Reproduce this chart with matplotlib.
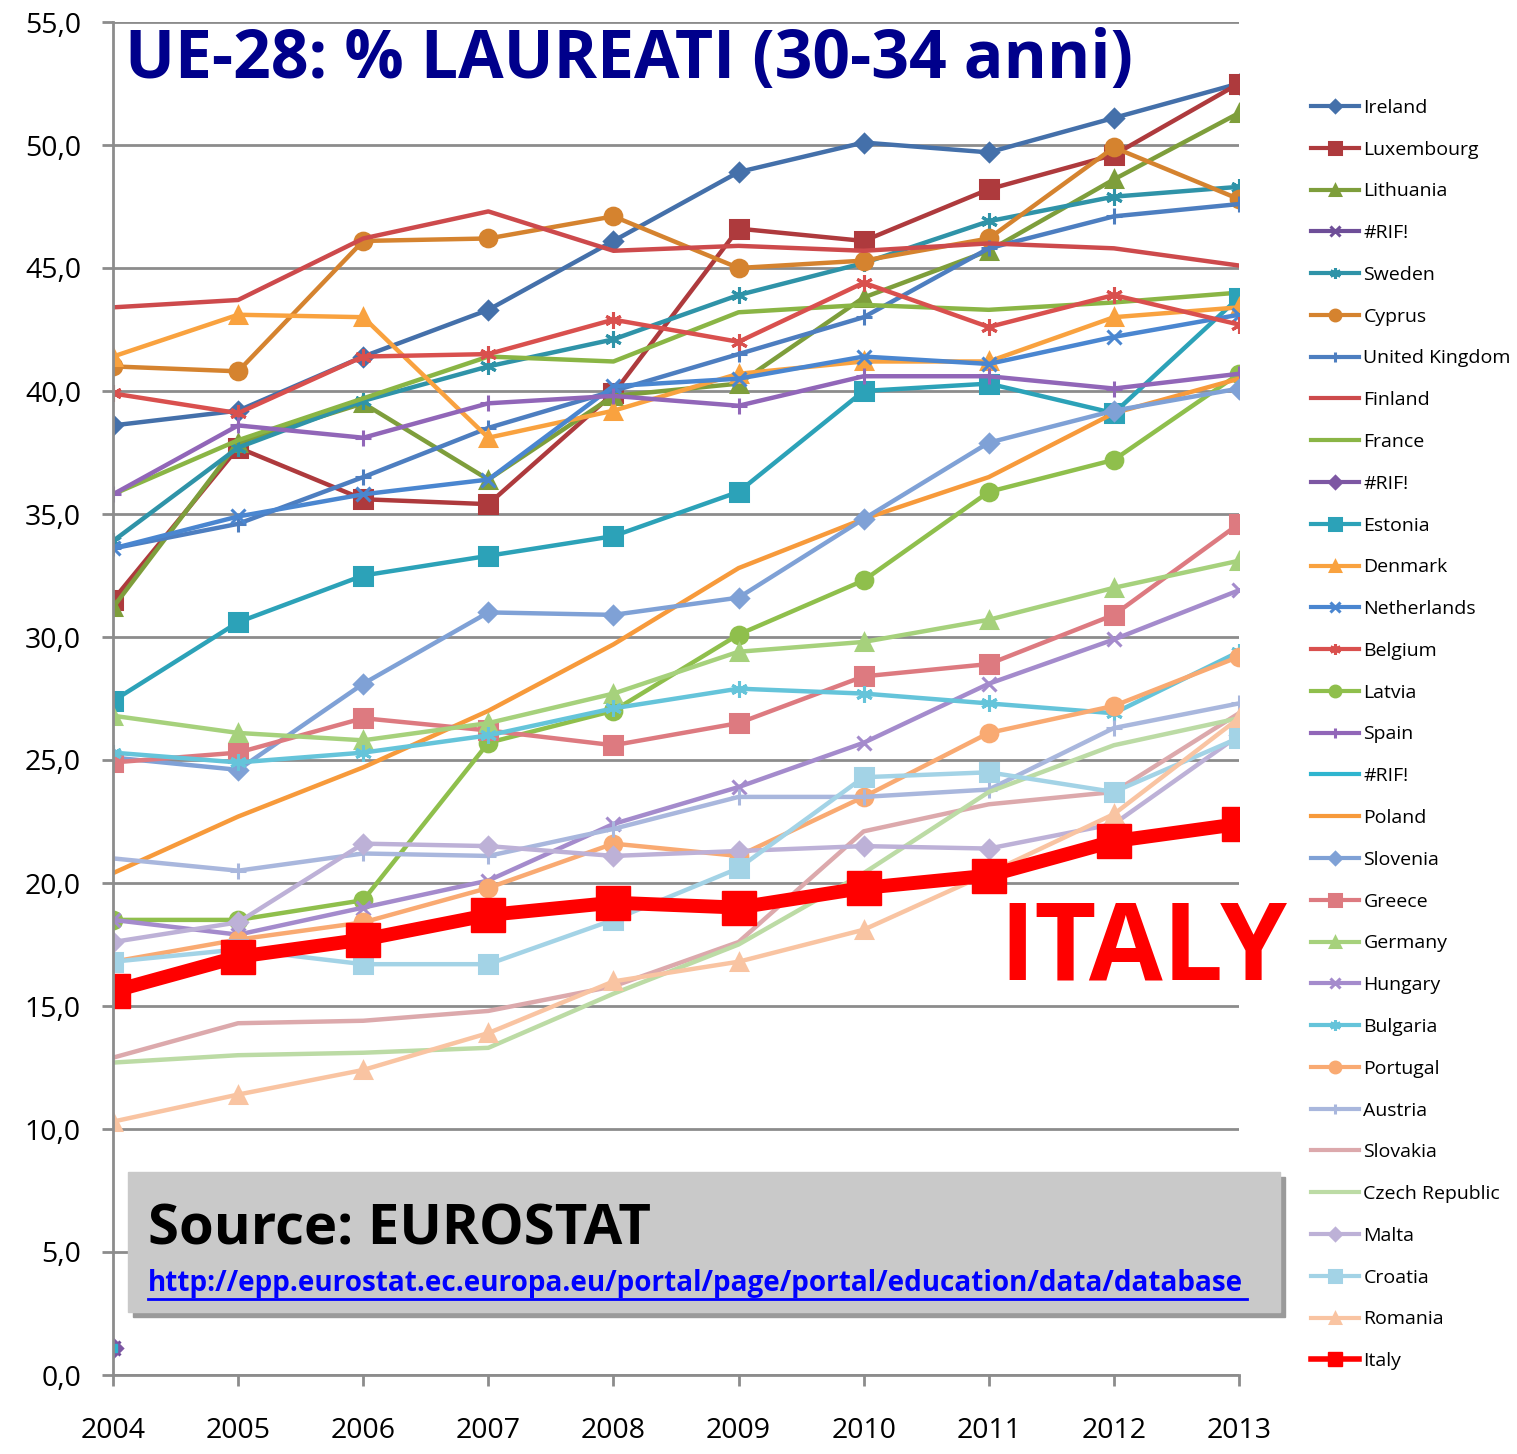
import numpy as np
import matplotlib
matplotlib.use("Agg")
import matplotlib.pyplot as plt
from matplotlib.patches import Rectangle
from matplotlib.ticker import FuncFormatter

nan = np.nan
years = [2004, 2005, 2006, 2007, 2008, 2009, 2010, 2011, 2012, 2013]

ireland = [38.6, 39.2, 41.4, 43.3, 46.1, 48.9, 50.1, 49.7, 51.1, 52.5]
luxembourg = [31.5, 37.7, 35.6, 35.4, 39.9, 46.6, 46.1, 48.2, 49.6, 52.5]
lithuania = [31.2, 37.9, 39.5, 36.4, 39.8, 40.3, 43.8, 45.7, 48.6, 51.3]
rif_a = [1.1, nan, nan, nan, nan, nan, nan, nan, nan, nan]
sweden = [33.9, 37.7, 39.6, 41.0, 42.1, 43.9, 45.2, 46.9, 47.9, 48.3]
cyprus = [41.0, 40.8, 46.1, 46.2, 47.1, 45.0, 45.3, 46.2, 49.9, 47.8]
uk = [33.6, 34.6, 36.5, 38.5, 40.0, 41.5, 43.0, 45.8, 47.1, 47.6]
finland = [43.4, 43.7, 46.2, 47.3, 45.7, 45.9, 45.7, 46.0, 45.8, 45.1]
france = [35.8, 38.0, 39.7, 41.4, 41.2, 43.2, 43.5, 43.3, 43.6, 44.0]
rif_b = [1.1, nan, nan, nan, nan, nan, nan, nan, nan, nan]
estonia = [27.4, 30.6, 32.5, 33.3, 34.1, 35.9, 40.0, 40.3, 39.1, 43.8]
denmark = [41.4, 43.1, 43.0, 38.1, 39.2, 40.7, 41.2, 41.2, 43.0, 43.4]
netherlands = [33.6, 34.9, 35.8, 36.4, 40.2, 40.5, 41.4, 41.1, 42.2, 43.1]
belgium = [39.9, 39.1, 41.4, 41.5, 42.9, 42.0, 44.4, 42.6, 43.9, 42.7]
latvia = [18.5, 18.5, 19.3, 25.7, 27.0, 30.1, 32.3, 35.9, 37.2, 40.7]
spain = [35.8, 38.6, 38.1, 39.5, 39.8, 39.4, 40.6, 40.6, 40.1, 40.7]
rif_c = [1.1, nan, nan, nan, nan, nan, nan, nan, nan, nan]
poland = [20.4, 22.7, 24.7, 27.0, 29.7, 32.8, 34.8, 36.5, 39.1, 40.5]
slovenia = [25.1, 24.6, 28.1, 31.0, 30.9, 31.6, 34.8, 37.9, 39.2, 40.1]
greece = [24.9, 25.3, 26.7, 26.2, 25.6, 26.5, 28.4, 28.9, 30.9, 34.6]
germany = [26.8, 26.1, 25.8, 26.5, 27.7, 29.4, 29.8, 30.7, 32.0, 33.1]
hungary = [18.5, 17.9, 19.0, 20.1, 22.4, 23.9, 25.7, 28.1, 29.9, 31.9]
bulgaria = [25.3, 24.9, 25.3, 26.0, 27.1, 27.9, 27.7, 27.3, 26.9, 29.4]
portugal = [16.8, 17.7, 18.4, 19.8, 21.6, 21.1, 23.5, 26.1, 27.2, 29.2]
austria = [21.0, 20.5, 21.2, 21.1, 22.2, 23.5, 23.5, 23.8, 26.3, 27.3]
slovakia = [12.9, 14.3, 14.4, 14.8, 15.8, 17.6, 22.1, 23.2, 23.7, 26.9]
czech = [12.7, 13.0, 13.1, 13.3, 15.5, 17.5, 20.4, 23.7, 25.6, 26.7]
malta = [17.6, 18.4, 21.6, 21.5, 21.1, 21.3, 21.5, 21.4, 22.4, 26.0]
croatia = [16.8, 17.3, 16.7, 16.7, 18.5, 20.6, 24.3, 24.5, 23.7, 25.9]
romania = [10.3, 11.4, 12.4, 13.9, 16.0, 16.8, 18.1, 20.4, 22.8, 26.7]
italy = [15.6, 17.0, 17.7, 18.7, 19.2, 19.0, 19.8, 20.3, 21.7, 22.4]

asterisk = (6, 2, 0)
series = [
    ("Ireland", ireland, "#4470AA", "D", 9),
    ("Luxembourg", luxembourg, "#AE3A3D", "s", 13),
    ("Lithuania", lithuania, "#7E9E3B", "^", 12),
    ("#RIF!", rif_a, "#6E4E98", "x", 10),
    ("Sweden", sweden, "#2F93A8", asterisk, 12),
    ("Cyprus", cyprus, "#D5832F", "o", 12),
    ("United Kingdom", uk, "#4D7EC0", "+", 12),
    ("Finland", finland, "#CD4A4C", None, 0),
    ("France", france, "#8AB545", None, 0),
    ("#RIF!", rif_b, "#7D57A3", "D", 9),
    ("Estonia", estonia, "#2CA2B8", "s", 13),
    ("Denmark", denmark, "#F9A23F", "^", 12),
    ("Netherlands", netherlands, "#4A86D0", "x", 10),
    ("Belgium", belgium, "#D9504E", asterisk, 12),
    ("Latvia", latvia, "#8FBF4C", "o", 12),
    ("Spain", spain, "#9166B8", "+", 12),
    ("#RIF!", rif_c, "#2FB5CF", None, 0),
    ("Poland", poland, "#F79A3B", None, 0),
    ("Slovenia", slovenia, "#7FA1D6", "D", 9),
    ("Greece", greece, "#DD7A80", "s", 13),
    ("Germany", germany, "#A6D17C", "^", 12),
    ("Hungary", hungary, "#A48BCC", "x", 10),
    ("Bulgaria", bulgaria, "#65C4DA", asterisk, 12),
    ("Portugal", portugal, "#F9AA72", "o", 12),
    ("Austria", austria, "#A9B7DD", "+", 12),
    ("Slovakia", slovakia, "#DCA9AC", None, 0),
    ("Czech Republic", czech, "#BCDBA5", None, 0),
    ("Malta", malta, "#BDB1D7", "D", 9),
    ("Croatia", croatia, "#A3D3E6", "s", 13),
    ("Romania", romania, "#F9C4A2", "^", 12),
]

plt.rcParams['font.family'] = ['Open Sans', 'DejaVu Sans']

W, H = 1517, 1454
fig = plt.figure(figsize=(W / 100, H / 100), dpi=100)
ax = fig.add_axes([113 / W, 1 - 1375 / H, (1239 - 113) / W, (1375 - 22) / H])

handles = []
for name, vals, col, mk, ms in series:
    if mk is None:
        ln, = ax.plot(years, vals, color=col, lw=3.2, label=name)
    else:
        ln, = ax.plot(years, vals, color=col, lw=3.2, marker=mk, ms=ms, mew=2.2,
                      mec=col, mfc=col, label=name)
    handles.append(ln)
# the cyan #RIF! point sits beside the purple ones at 2004
ax.plot(years, rif_c, color="#2FB5CF", lw=0, marker="s", ms=6)
ln, = ax.plot(years, italy, color="#FF0000", lw=10, marker="s", ms=24,
              mec="#FF0000", mfc="#FF0000", label="Italy")
handles.append(ln)

ax.set_xlim(2004, 2013)
ax.set_ylim(0, 55)
ax.set_yticks(np.arange(0, 56, 5))
ax.set_xticks(years)
ax.yaxis.set_major_formatter(FuncFormatter(lambda v, p: f"{v:.1f}".replace(".", ",")))
ax.grid(axis='y', color="#8C8C8C", lw=2)
ax.set_axisbelow(True)
for s in ['top', 'right']:
    ax.spines[s].set_visible(False)
for s in ['left', 'bottom']:
    ax.spines[s].set_color("#8C8C8C")
    ax.spines[s].set_linewidth(2)
ax.tick_params(axis='both', color="#8C8C8C", width=2, length=8, labelsize=20.5)
ax.tick_params(axis='y', pad=15)
ax.tick_params(axis='x', pad=22)

leg = fig.legend(handles=handles, loc='upper left', bbox_to_anchor=(1303 / W, 1 - 91 / H),
                 frameon=False, fontsize=14, labelspacing=1.223, handlelength=2.5,
                 handletextpad=0.2, markerscale=0.65, borderaxespad=0)
for h in leg.legend_handles:
    h.set_linewidth(3)
leg.legend_handles[-1].set_markersize(10)
leg.legend_handles[-1].set_linewidth(4)

fig.text(125 / W, 1 - 60 / H, "UE-28: % LAUREATI (30-34 anni)", fontsize=47.5,
         fontweight='bold', color="#00008B", va='center', ha='left')
fig.text(1143 / W, 1 - 952 / H, "ITALY", fontsize=77, fontweight='bold',
         color="#FF0000", va='center', ha='center')

fig.patches.append(Rectangle((133 / W, 1 - 1317 / H), (1280 - 128) / W, 140 / H,
                             transform=fig.transFigure, color="#9A9A9A", zorder=5))
fig.patches.append(Rectangle((128 / W, 1 - 1312 / H), (1280 - 128) / W, 140 / H,
                             transform=fig.transFigure, color="#C9C9C9", zorder=6))
fig.text(148 / W, 1 - 1230 / H, "Source: EUROSTAT", fontsize=40.5, fontweight='bold',
         color="black", va='center', ha='left', zorder=7)
fig.text(148 / W, 1 - 1284 / H,
         "http://epp.eurostat.ec.europa.eu/portal/page/portal/education/data/database",
         fontsize=20.1, fontweight='bold', color="#0000FF", va='center', ha='left',
         zorder=7)
fig.lines.append(plt.Line2D([148 / W, 1247 / W], [1 - 1299 / H, 1 - 1299 / H],
                            transform=fig.transFigure, color="#0000FF", lw=2, zorder=7))

fig.savefig("out.png", dpi=100)
